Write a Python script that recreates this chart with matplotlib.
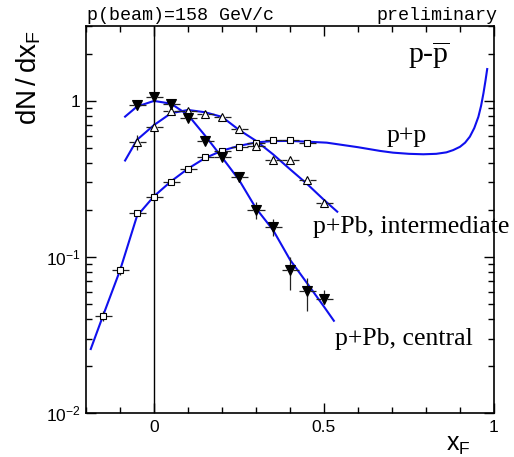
import numpy as np
import matplotlib
matplotlib.use("Agg")
import matplotlib.pyplot as plt
from matplotlib.ticker import FixedLocator, NullFormatter, LogLocator

plt.rcParams['mathtext.fontset'] = 'custom'
plt.rcParams['mathtext.rm'] = 'Liberation Serif'
plt.rcParams['mathtext.sf'] = 'Liberation Sans'

# ---- data: measured points ----
x_pp = [-0.15, -0.10, -0.05, 0.0, 0.05, 0.10, 0.15, 0.20, 0.25, 0.30, 0.35, 0.40, 0.45]
y_pp = [0.042, 0.082, 0.191, 0.243, 0.301, 0.365, 0.436, 0.480, 0.509, 0.540, 0.560, 0.558, 0.540]
ey_pp = [0.003, 0.005, 0.008, 0.008, 0.008, 0.008, 0.008, 0.008, 0.008, 0.008, 0.008, 0.008, 0.008]

x_int = [-0.05, 0.0, 0.05, 0.10, 0.15, 0.20, 0.25, 0.30, 0.35, 0.40, 0.45, 0.50]
y_int = [0.544, 0.684, 0.863, 0.860, 0.822, 0.786, 0.661, 0.517, 0.419, 0.419, 0.312, 0.221]
ey_int = [0.06, 0.03, 0.03, 0.02, 0.02, 0.02, 0.02, 0.02, 0.015, 0.015, 0.012, 0.01]

x_cen = [-0.05, 0.0, 0.05, 0.10, 0.15, 0.20, 0.25, 0.30, 0.35, 0.40, 0.45, 0.50]
y_cen = [0.943, 1.056, 0.957, 0.780, 0.554, 0.436, 0.327, 0.200, 0.156, 0.0824, 0.0606, 0.0537]
eylo_cen = [0.07, 0.04, 0.04, 0.04, 0.03, 0.025, 0.025, 0.025, 0.02, 0.021, 0.0156, 0.004]
eyhi_cen = [0.07, 0.04, 0.04, 0.04, 0.03, 0.025, 0.025, 0.025, 0.02, 0.018, 0.0124, 0.008]

xbin_half = 0.025

# ---- data: fitted curves ----
cx_pp = [-0.186, -0.15, -0.10, -0.05, 0.0, 0.05, 0.10, 0.15, 0.20, 0.25, 0.30, 0.35, 0.40,
         0.45, 0.508, 0.60, 0.665, 0.703, 0.75, 0.792, 0.83, 0.86, 0.88, 0.90, 0.915, 0.929,
         0.942, 0.954, 0.962, 0.969, 0.975, 0.980]
cy_pp = [0.0257, 0.042, 0.082, 0.183, 0.245, 0.305, 0.368, 0.430, 0.480, 0.515, 0.542, 0.553, 0.554,
         0.548, 0.540, 0.505, 0.478, 0.466, 0.458, 0.455, 0.458, 0.468, 0.484, 0.508, 0.540, 0.590,
         0.670, 0.790, 0.930, 1.12, 1.35, 1.60]

cx_int = [-0.085, -0.05, 0.0, 0.05, 0.10, 0.15, 0.20, 0.25, 0.30, 0.35, 0.40, 0.45, 0.50, 0.539]
cy_int = [0.415, 0.563, 0.700, 0.834, 0.875, 0.846, 0.790, 0.652, 0.555, 0.455, 0.365, 0.294, 0.232, 0.195]

cx_cen = [-0.085, -0.05, 0.0, 0.05, 0.10, 0.15, 0.20, 0.25, 0.30, 0.35, 0.40, 0.45, 0.50, 0.529]
cy_cen = [0.793, 0.920, 1.000, 0.960, 0.813, 0.600, 0.435, 0.312, 0.205, 0.149, 0.096, 0.068, 0.048, 0.039]

x_major = [0.0, 0.5, 1.0]
x_major_labels = ['0', '0.5', '1']
x_minor = [-0.2, -0.1, 0.1, 0.2, 0.3, 0.4, 0.6, 0.7, 0.8, 0.9]
y_major = [0.01, 0.1, 1.0]
y_major_labels = [r'$\mathregular{10^{-2}}$', r'$\mathregular{10^{-1}}$', '1']

W, H = 514, 457
fig = plt.figure(figsize=(W / 100, H / 100), dpi=100)
ax = fig.add_axes([86 / W, 1 - 413 / H, (494 - 86) / W, (413 - 26) / H])
ax.set_yscale('log')
ax.set_xlim(-0.2, 1.0)
ax.set_ylim(0.01, 3.02)

blue = '#1010ee'
ax.plot(cx_pp, cy_pp, color=blue, lw=1.5, zorder=2)
ax.plot(cx_int, cy_int, color=blue, lw=1.5, zorder=2)
ax.plot(cx_cen, cy_cen, color=blue, lw=1.5, zorder=2)

ax.axvline(0.0, color='black', lw=1.0, zorder=1)

errc = '#222222'
gap = 0.009

def draw_points(xs, ys, eylo, eyhi, marker, ms, face):
    xs = np.asarray(xs); ys = np.asarray(ys)
    eylo = np.asarray(eylo); eyhi = np.asarray(eyhi)
    ax.hlines(ys, xs - xbin_half, xs - gap, color=errc, lw=0.9, zorder=3)
    ax.hlines(ys, xs + gap, xs + xbin_half, color=errc, lw=0.9, zorder=3)
    ax.vlines(xs, ys - eylo, ys + eyhi, color=errc, lw=0.9, zorder=3)
    ax.plot(xs, ys, ls='none', marker=marker, ms=ms, mfc=face, mec='black',
            mew=0.8, zorder=4)

draw_points(x_pp, y_pp, ey_pp, ey_pp, 's', 5.0, 'white')
draw_points(x_int, y_int, ey_int, ey_int, '^', 6.0, 'white')
draw_points(x_cen, y_cen, eylo_cen, eyhi_cen, 'v', 7.5, 'black')

# ticks
ax.xaxis.set_major_locator(FixedLocator(x_major))
ax.xaxis.set_minor_locator(FixedLocator(x_minor))
ax.set_xticklabels(x_major_labels)
ax.yaxis.set_major_locator(FixedLocator(y_major))
ax.yaxis.set_minor_locator(LogLocator(base=10, subs=np.arange(2, 10)))
ax.yaxis.set_minor_formatter(NullFormatter())
ax.set_yticklabels(y_major_labels)
ax.tick_params(which='both', direction='in', top=True, right=True, width=1.0,
               labelsize=12.5, labelfontfamily='Liberation Sans')
ax.tick_params(which='major', length=7)
ax.tick_params(which='minor', length=4)
ax.tick_params(axis='x', pad=5)
ax.tick_params(axis='y', pad=4)
for s in ax.spines.values():
    s.set_linewidth(1.2)

# texts
serif = 'Liberation Serif'
ax.text(0.685, 0.548, 'p+p', fontsize=18.5, family=serif, va='baseline', ha='left')
ax.text(0.468, 0.142, 'p+Pb, intermediate', fontsize=18.5, family=serif, va='baseline', ha='left', clip_on=False)
ax.text(0.532, 0.0272, 'p+Pb, central', fontsize=18.5, family=serif, va='baseline', ha='left')
ax.text(0.747, 1.745, r'p-$\overline{\mathrm{p}}$', fontsize=21.5, family=serif, va='baseline', ha='left')

mono = 'Liberation Mono'
fig.text(87 / W, 1 - 20 / H, 'p(beam)=158 GeV/c', fontsize=13.2, family=mono, ha='left', va='baseline')
fig.text(497 / W, 1 - 20 / H, 'preliminary', fontsize=13.2, family=mono, ha='right', va='baseline')

fig.text(29 / W, 1 - 78 / H, r'$\mathsf{dN\,/\,dx_F}$', fontsize=20, rotation=90, ha='center', va='center')
fig.text(458 / W, 1 - 445 / H, r'$\mathsf{x_F}$', fontsize=18, ha='center', va='center')

fig.savefig('out.png', dpi=100)
